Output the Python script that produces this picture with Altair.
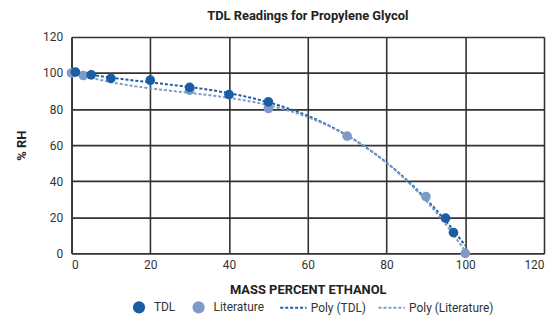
import altair as alt
import pandas as pd

tdl_x = [1, 5, 10, 20, 30, 40, 50, 95, 97]
tdl_y = [100.5, 99, 97, 96, 92, 88, 84, 19.5, 11.5]
lit_x = [0, 3, 30, 50, 70, 90, 100]
lit_y = [100, 98.6, 90.5, 80.3, 65, 31.5, 0]

DARK = "#1b5da3"
LIGHT = "#7d9bc9"
FONT = "Roboto"

rows = [{"x": a, "y": b, "series": "TDL", "fit": "Poly (TDL)"} for a, b in zip(tdl_x, tdl_y)]
rows += [{"x": a, "y": b, "series": "Literature", "fit": "Poly (Literature)"} for a, b in zip(lit_x, lit_y)]
df = pd.DataFrame(rows)

xs = alt.Scale(domain=[0, 120], nice=False)
ys = alt.Scale(domain=[0, 120], nice=False)

x_axis = alt.Axis(values=[0, 20, 40, 60, 80, 100, 120], title="MASS PERCENT ETHANOL",
                  titleFontWeight="bold", titleFontSize=13, titlePadding=13,
                  labelPadding=6)
y_axis = alt.Axis(values=[0, 20, 40, 60, 80, 100, 120], title="% RH",
                  titleFontWeight="bold", titleFontSize=13, titlePadding=14,
                  labelPadding=9)

base = alt.Chart(df)

lines = base.transform_regression(
    "x", "y", method="poly", order=3, groupby=["fit"], extent=[0, 100]
).mark_line(strokeWidth=2, strokeDash=[3, 2]).encode(
    x=alt.X("x:Q", scale=xs, axis=x_axis),
    y=alt.Y("y:Q", scale=ys, axis=y_axis),
    color=alt.Color("fit:N",
                    scale=alt.Scale(domain=["Poly (TDL)", "Poly (Literature)"], range=[DARK, LIGHT]),
                    legend=alt.Legend(title=None, orient="none", direction="horizontal",
                                      legendX=209, legendY=258, symbolType="stroke",
                                      symbolDash=[3, 2], symbolStrokeWidth=2, symbolSize=700,
                                      labelFontSize=12, labelOffset=3, columnPadding=8)),
    detail="fit:N",
)

points = base.mark_circle(size=95, opacity=1).encode(
    x=alt.X("x:Q", scale=xs, axis=x_axis),
    y=alt.Y("y:Q", scale=ys, axis=y_axis),
    fill=alt.Fill("series:N",
                  scale=alt.Scale(domain=["TDL", "Literature"], range=[DARK, LIGHT]),
                  legend=alt.Legend(title=None, orient="none", direction="horizontal",
                                    legendX=61, legendY=265, symbolType="circle",
                                    symbolSize=150, symbolOpacity=1,
                                    labelFontSize=12, labelOffset=8, columnPadding=16)),
    order=alt.Order("order:Q"),
).transform_calculate(order="datum.series == 'TDL' ? 1 : 0")

chart = alt.layer(lines, points).resolve_scale(color="independent", fill="independent").properties(
    width=476,
    height=218,
    title=alt.TitleParams("TDL Readings for Propylene Glycol", fontSize=13, fontWeight="bold",
                          anchor="middle", offset=8, color="#222"),
    autosize=alt.AutoSizeParams(type="none"),
    padding={"left": 64, "top": 28, "right": 2, "bottom": 62},
).configure(font=FONT).configure_view(stroke=None).configure_axis(
    gridColor="#333", gridWidth=1.6, domainColor="#333", domainWidth=1.6,
    ticks=False, labelFontSize=12, labelColor="#333", titleColor="#222",
    gridOpacity=1
).configure_legend(labelColor="#333")

chart.save("out.html", embed_options={"renderer": "svg", "actions": False})
